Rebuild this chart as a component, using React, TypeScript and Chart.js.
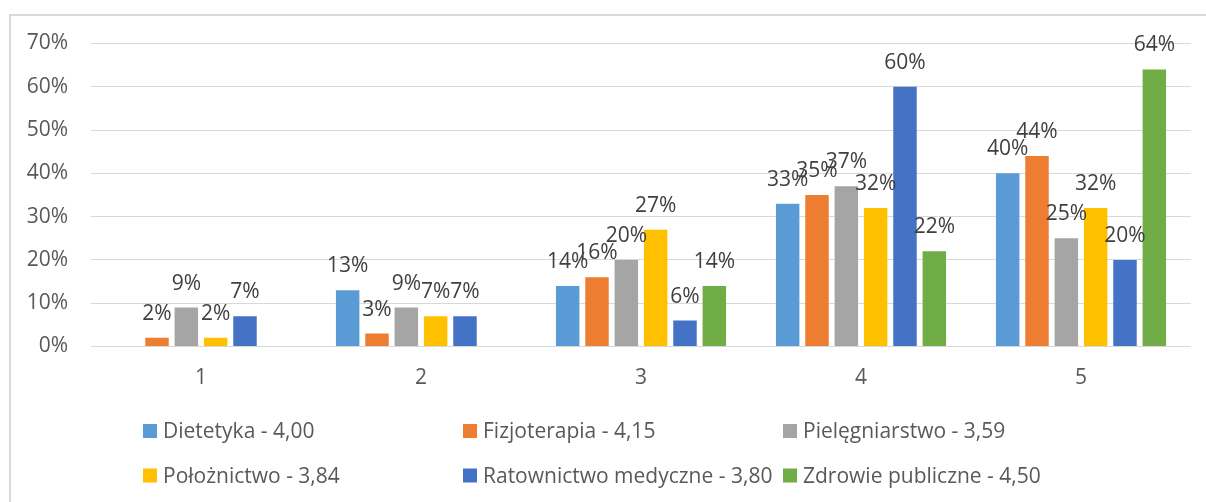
import React, { useEffect, useRef } from "react";
import { Chart, registerables } from "chart.js";

Chart.register(...registerables);

const categories = ["1", "2", "3", "4", "5"];
const seriesLabels = [
  "Dietetyka - 4,00",
  "Fizjoterapia - 4,15",
  "Pielęgniarstwo - 3,59",
  "Położnictwo - 3,84",
  "Ratownictwo medyczne - 3,80",
  "Zdrowie publiczne - 4,50",
];
const dietetyka = [null, 13, 14, 33, 40];
const fizjoterapia = [2, 3, 16, 35, 44];
const pielegniarstwo = [9, 9, 20, 37, 25];
const poloznictwo = [2, 7, 27, 32, 32];
const ratownictwo = [7, 7, 6, 60, 20];
const zdrowie = [null, null, 14, 22, 64];
const seriesColors = ["#5B9BD5", "#ED7D31", "#A5A5A5", "#FFC000", "#4472C4", "#70AD47"];
const yTicks = [0, 10, 20, 30, 40, 50, 60, 70];

const FONT = "'Open Sans', sans-serif";
const FONT_SIZE = 21;

const backgroundPlugin = {
  id: "bgBorder",
  beforeDraw(chart: any) {
    const ctx = chart.ctx;
    ctx.save();
    ctx.fillStyle = "#ffffff";
    ctx.fillRect(0, 0, chart.width, chart.height);
    ctx.strokeStyle = "#D9D9D9";
    ctx.lineWidth = 2;
    ctx.strokeRect(10, 15, chart.width + 20, chart.height + 20);
    ctx.restore();
  },
};

const dataLabelPlugin = {
  id: "dataLabels",
  afterDatasetsDraw(chart: any) {
    const ctx = chart.ctx;
    ctx.save();
    ctx.font = `${FONT_SIZE}px ${FONT}`;
    ctx.fillStyle = "#404040";
    ctx.textAlign = "center";
    ctx.textBaseline = "alphabetic";
    chart.data.datasets.forEach((ds: any, di: number) => {
      const meta = chart.getDatasetMeta(di);
      meta.data.forEach((el: any, i: number) => {
        const v = ds.data[i];
        if (v === null || v === undefined) return;
        ctx.fillText(v + "%", el.x, el.y - 18);
      });
    });
    ctx.restore();
  },
};

const legendPlugin = {
  id: "customLegend",
  afterDraw(chart: any) {
    const ctx = chart.ctx;
    ctx.save();
    ctx.font = `${FONT_SIZE}px ${FONT}`;
    ctx.textBaseline = "alphabetic";
    ctx.textAlign = "left";
    const colStarts = [143, 463, 783];
    const rowBaselines = [438, 482.5];
    const box = 14;
    const perRow = 3;
    let prevEnd = 0;
    chart.data.datasets.forEach((ds: any, i: number) => {
      const row = Math.floor(i / perRow);
      const col = i % perRow;
      if (col === 0) prevEnd = 0;
      const x = Math.max(colStarts[col], prevEnd + 5);
      const base = rowBaselines[row];
      ctx.fillStyle = ds.backgroundColor;
      ctx.fillRect(x, base - box, box, box);
      ctx.fillStyle = "#595959";
      const tx = x + 20;
      ctx.fillText(ds.label, tx, base);
      prevEnd = tx + ctx.measureText(ds.label).width;
    });
    ctx.restore();
  },
};

export default function App() {
  const canvasRef = useRef<HTMLCanvasElement | null>(null);

  useEffect(() => {
    if (!canvasRef.current) return;
    const seriesData = [dietetyka, fizjoterapia, pielegniarstwo, poloznictwo, ratownictwo, zdrowie];
    const chart = new Chart(canvasRef.current, {
      type: "bar",
      data: {
        labels: categories,
        datasets: seriesData.map((d, i) => ({
          label: seriesLabels[i],
          data: d,
          backgroundColor: seriesColors[i],
          borderWidth: 0,
          categoryPercentage: 0.8,
          barPercentage: 0.8,
        })),
      },
      options: {
        animation: false,
        responsive: true,
        maintainAspectRatio: false,
        devicePixelRatio: 1,
        layout: { padding: { left: 0, right: 15, top: 43.5, bottom: 0 } },
        plugins: {
          legend: { display: false },
          tooltip: { enabled: false },
          title: { display: false },
        },
        scales: {
          x: {
            grid: { display: false, drawTicks: false },
            border: { display: false },
            ticks: {
              color: "#595959",
              font: { family: FONT, size: FONT_SIZE },
              padding: 19,
            },
            afterFit(scale: any) {
              scale.height = 155.5;
            },
          },
          y: {
            min: 0,
            max: 70,
            afterBuildTicks(scale: any) {
              scale.ticks = yTicks.map((v) => ({ value: v }));
            },
            grid: { color: "#D9D9D9", lineWidth: 1, drawTicks: false },
            border: { display: false },
            ticks: {
              color: "#595959",
              font: { family: FONT, size: FONT_SIZE },
              padding: 23,
              callback: (v: any) => v + "%",
            },
            afterFit(scale: any) {
              scale.width = 91;
            },
          },
        },
      },
      plugins: [backgroundPlugin, dataLabelPlugin, legendPlugin],
    });
    return () => chart.destroy();
  }, []);

  return (
    <div style={{ position: "absolute", left: 0, top: 0, width: 1206, height: 502 }}>
      <canvas ref={canvasRef} />
    </div>
  );
}
